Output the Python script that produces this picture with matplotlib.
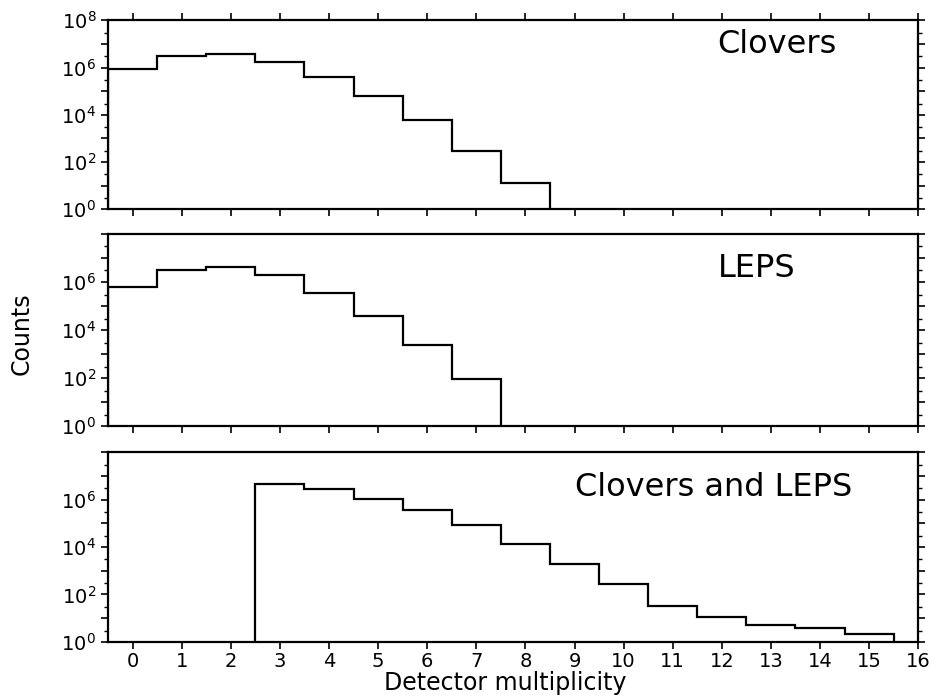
import numpy as np
import matplotlib.pyplot as plt
from matplotlib.ticker import FixedLocator, FuncFormatter, LogLocator, NullFormatter

# bin contents (multiplicity 0,1,2,...)
clover_mult = np.arange(0, 9)
clover_counts = [8.5e5, 3.2e6, 3.7e6, 1.7e6, 4.0e5, 6.3e4, 6.3e3, 2.9e2, 13]

leps_mult = np.arange(0, 8)
leps_counts = [5.9e5, 3.0e6, 4.2e6, 2.0e6, 3.5e5, 3.8e4, 2.5e3, 92]

both_mult = np.arange(3, 16)
both_counts = [4.6e6, 2.9e6, 1.1e6, 3.5e5, 8.2e4, 1.3e4, 2.0e3, 270, 34, 11.6, 5.2, 4.0, 2.1]

panel_names = ['Clovers', 'LEPS', 'Clovers and LEPS']
x_ticks = list(range(0, 17))
y_decades = [1e0, 1e1, 1e2, 1e3, 1e4, 1e5, 1e6, 1e7, 1e8]

plt.rcParams['font.family'] = ['DejaVu Sans']

fig = plt.figure(figsize=(9.37, 7), dpi=100)
boxes = [[0.1153, 0.701, 0.8647, 0.270],
         [0.1153, 0.391, 0.8647, 0.275],
         [0.1153, 0.083, 0.8647, 0.271]]
data = [(clover_mult, clover_counts), (leps_mult, leps_counts), (both_mult, both_counts)]
label_pos = [(0.826, 0.87), (0.80, 0.82), (0.747, 0.815)]

for i, (box, (m, c)) in enumerate(zip(boxes, data)):
    ax = fig.add_axes(box)
    edges = np.append(m - 0.5, m[-1] + 0.5)
    ax.stairs(c, edges, baseline=1, color='black', linewidth=1.6)
    ax.set_yscale('log')
    ax.set_ylim(1, 1e8)
    ax.set_xlim(-0.5, 16)
    for s in ax.spines.values():
        s.set_linewidth(1.6)

    top_max = 8 if i == 0 else 6

    def fmt(v, pos, top_max=top_max):
        e = int(round(np.log10(v)))
        if e % 2 == 0 and e <= top_max:
            return r'$10^{%d}$' % e
        return ''

    ax.yaxis.set_major_locator(FixedLocator(y_decades))
    ax.yaxis.set_major_formatter(FuncFormatter(fmt))
    ax.yaxis.set_minor_locator(LogLocator(base=10, subs=(3.0,), numticks=20))
    ax.yaxis.set_minor_formatter(NullFormatter())
    ax.set_xticks(x_ticks)
    ax.tick_params(axis='y', which='major', direction='out', length=5, width=1.2,
                   left=True, right=True, labelsize=14)
    ax.tick_params(axis='y', which='minor', direction='out', length=3, width=1,
                   left=True, right=True)
    ax.tick_params(axis='x', which='major', direction='out', length=5, width=1.2,
                   top=(i == 0), bottom=True, labelsize=14, pad=2)
    if i < 2:
        ax.tick_params(axis='x', labelbottom=False)
    ax.text(label_pos[i][0], label_pos[i][1], panel_names[i], transform=ax.transAxes,
            ha='center', va='center', fontsize=23)

fig.text(0.023, 0.524, 'Counts', rotation=90, ha='center', va='center', fontsize=17)
fig.text(0.539, 0.024, 'Detector multiplicity', ha='center', va='center', fontsize=17)

fig.savefig('out.png', dpi=100)
